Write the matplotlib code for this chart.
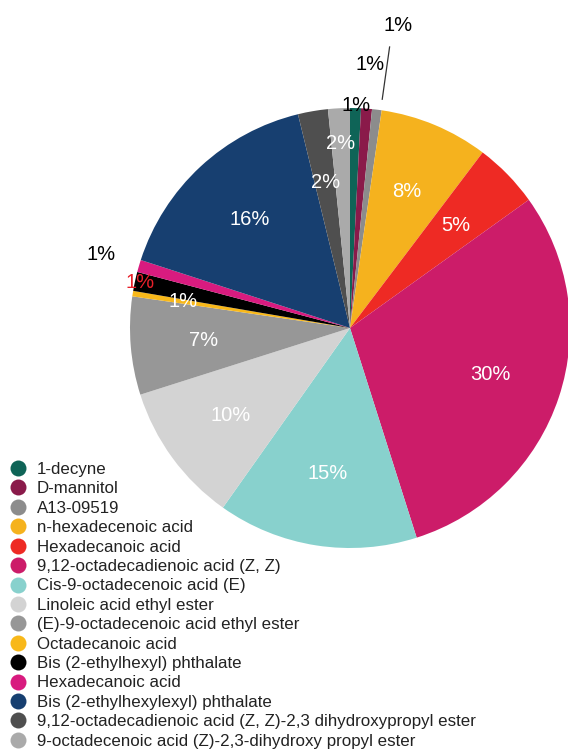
import numpy as np
import matplotlib.pyplot as plt
from matplotlib.lines import Line2D

plt.rcParams['font.family'] = ['Liberation Sans', 'DejaVu Sans']

# Dati (percentuali)
compounds = [
    '1-decyne',
    'D-mannitol',
    'A13-09519',
    'n-hexadecenoic acid',
    'Hexadecanoic acid',
    '9,12-octadecadienoic acid (Z, Z)',
    'Cis-9-octadecenoic acid (E)',
    'Linoleic acid ethyl ester',
    '(E)-9-octadecenoic acid ethyl ester',
    'Octadecanoic acid',
    'Bis (2-ethylhexyl) phthalate',
    'Hexadecanoic acid',
    'Bis (2-ethylhexylexyl) phthalate',
    '9,12-octadecadienoic acid (Z, Z)-2,3 dihydroxypropyl ester',
    '9-octadecenoic acid (Z)-2,3-dihydroxy propyl ester',
]
shares = [0.8, 0.8, 0.7, 8.0, 4.8, 30.0, 14.7, 10.3, 7.2, 0.4, 1.4, 0.9, 16.2, 2.2, 1.6]
pct_text = ['1%', '1%', '1%', '8%', '5%', '30%', '15%', '10%', '7%',
            '1%', '1%', '1%', '16%', '2%', '2%']

# Stile
colors = ['#0f6457', '#8a1a4a', '#8c8c8c', '#f5b21e', '#ee2a24', '#cc1c69',
          '#88d1cd', '#d3d3d3', '#979797', '#f8b81a', '#000000', '#d81b7f',
          '#173f70', '#4f4f4f', '#aaaaaa']
label_r = [1.01, 1.20, 1.39, 0.67, 0.67, 0.67, 0.67, 0.67, 0.67,
           0.77, 0.976, 1.18, 0.67, 0.67, 0.84]
label_shift = [0, 0, -2, 0, 0, 0, 0, 0, 0, 0, 0, 0, 0, 0, 0]
label_col = ['black', 'black', 'black', 'white', 'white', 'white', 'white', 'white',
             'white', 'white', '#e8202a', 'black', 'white', 'white', 'white']

W, H = 568, 753
cx, cy, R = 350, 328, 220

fig = plt.figure(figsize=(W / 100, H / 100), dpi=100)
ax = fig.add_axes([0, 0, 1, 1])
wedges, _ = ax.pie(shares, colors=colors, startangle=90, counterclock=False,
                   radius=1, wedgeprops=dict(linewidth=0))
ax.set_xlim(-cx / R, (W - cx) / R)
ax.set_ylim(-(H - cy) / R, cy / R)
ax.set_aspect('equal')
ax.axis('off')

for w, txt, r, dt, c in zip(wedges, pct_text, label_r, label_shift, label_col):
    ang = np.deg2rad((w.theta1 + w.theta2) / 2 + dt)
    ax.text(r * np.cos(ang), r * np.sin(ang), txt, ha='center', va='center',
            fontsize=14.5, color=c)

# linea di richiamo per A13-09519
a13 = wedges[2]
ang = np.deg2rad((a13.theta1 + a13.theta2) / 2 - 1)
ax.plot([1.05 * np.cos(ang), 1.29 * np.cos(ang)],
        [1.05 * np.sin(ang), 1.29 * np.sin(ang)], color='#333333', lw=0.9)

handles = [Line2D([], [], marker='o', ls='none', markersize=11.5,
                  markerfacecolor=c, markeredgewidth=0) for c in colors]
fig.legend(handles, compounds, loc='upper left',
           bbox_to_anchor=(10 / W, 1 - 462 / H), frameon=False, fontsize=12.2,
           handlelength=1.0, handletextpad=0.6, labelspacing=0.26,
           borderpad=0, borderaxespad=0, labelcolor='#222222')

plt.savefig('out.png', dpi=100)
